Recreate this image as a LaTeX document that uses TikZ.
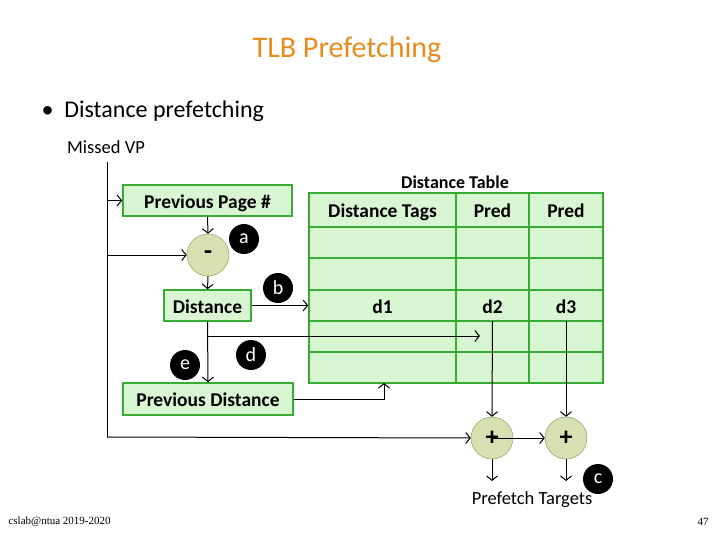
\documentclass[tikz,border=0pt]{standalone}
\usepackage{fontspec}
\setmainfont{Carlito}
\newfontfamily\footfont{Liberation Serif}
\usetikzlibrary{positioning,calc,arrows.meta}

\definecolor{boxgreen}{RGB}{216,246,210}
\definecolor{edgegreen}{RGB}{56,170,56}
\definecolor{opfill}{RGB}{214,224,176}
\definecolor{opedge}{RGB}{122,150,92}
\definecolor{titleorange}{RGB}{230,140,30}

\tikzset{
  blk/.style={draw=edgegreen, fill=boxgreen, line width=1.6pt, inner sep=0pt,
    text height=17pt, text depth=2pt,
    font=\bfseries\fontsize{19.5}{22}\selectfont},
  cell/.style={inner sep=0pt, text height=17pt, text depth=2pt,
    font=\bfseries\fontsize{19.5}{22}\selectfont},
  op/.style={circle, draw=opedge, fill=opfill, minimum size=42pt, inner sep=0pt,
    font=\bfseries\fontsize{26}{26}\selectfont},
  tag/.style={circle, fill=black, text=white, minimum size=30pt, inner sep=0pt,
    font=\fontsize{20}{20}\selectfont},
  flow/.style={-{Straight Barb[length=4.5pt,width=11pt]}, line width=1pt},
}

\begin{document}
\begin{tikzpicture}[x=1pt,y=-1pt]
    \useasboundingbox (0,0) rectangle (720,540);

    % Title and bullet
    \node[text=titleorange, font=\fontsize{30}{34}\selectfont] (title) at (347,50) {TLB Prefetching};
    \node[anchor=west, font=\fontsize{24}{28}\selectfont] (bullet) at (38,111) {\textbullet\ \ Distance prefetching};
    \node[font=\fontsize{18.5}{20}\selectfont] (mvp) at (106,147) {Missed VP};

    % Blocks
    \node[blk, minimum width=169pt, minimum height=31pt] (prev) at (207.5,200.5) {Previous Page \#};
    \node[op] (minus) at (208,255) {-};
    \node[blk, minimum width=87pt, minimum height=31pt] (dist) at (207.5,305.5) {Distance};
    \node[blk, minimum width=170pt, minimum height=32pt] (pdist) at (208,399) {Previous Distance};

    % Distance table
    \node[blk, minimum width=294pt, minimum height=190pt, text height=0pt, text depth=0pt] (tbl) at (456,288) {};
    \foreach \xx in {456,529}
        \draw[edgegreen, line width=1.6pt] (\xx,193) -- (\xx,383);
    \foreach \yy in {227,258,290,321,352}
        \draw[edgegreen, line width=1.6pt] (309,\yy) -- (603,\yy);
    \node[font=\bfseries\fontsize{18}{20}\selectfont] (ttl) at (455,182) {Distance Table};
    \node[cell, minimum height=31pt] (tags) at (382.5,210) {Distance Tags};
    \node[cell, minimum height=31pt] (predA) at (492.5,210) {Pred};
    \node[cell, minimum height=31pt] (predB) at (566,210) {Pred};
    \node[cell, minimum height=31pt] (d1) at (382.5,305.5) {d1};
    \node[cell, minimum height=31pt] (d2) at (492.5,305.5) {d2};
    \node[cell, minimum height=31pt] (d3) at (566,305.5) {d3};

    % Adders
    \node[op] (plus1) at (492,438) {+};
    \node[op] (plus2) at (566,438) {+};
    \node[font=\fontsize{18.5}{20}\selectfont] (targets) at (532,500) {Prefetch Targets};

    % Connectors
    \coordinate (top) at (107,162);
    \coordinate (corner) at (107,437);
    \coordinate (split) at (207.5,336);
    \coordinate (dend) at (480,336);
    \coordinate (tin) at (384,383);
    \coordinate (out1) at (492,481);
    \coordinate (out2) at (566,481);
    \draw[line width=1pt] (top) -- (corner);
    \draw[flow] (top |- prev.west) -- (prev.west);
    \draw[flow] (top |- minus.west) -- (minus.west);
    \draw[flow] (prev.south) -- (minus.north);
    \draw[flow] (minus.south) -- (dist.north);
    \draw[flow] (dist.east) -- (dist.east -| tbl.west);
    \draw[flow] (dist.south) -- (pdist.north);
    \draw[flow] (split) -- (dend);
    \draw[flow] (pdist.east) -| (tin);
    \draw[flow] (d2.south) -- (plus1.north);
    \draw[flow] (d3.south) -- (plus2.north);
    \draw[flow] (corner) -- (plus1.west);
    \draw[flow] (plus1.center) -- (plus2.west);
    \draw[flow] (plus1.south) -- (out1);
    \draw[flow] (plus2.south) -- (out2);

    % Step labels
    \node[tag] (la) at (244,239) {a};
    \node[tag] (lb) at (278,288) {b};
    \node[tag] (lc) at (598,479) {c};
    \node[tag] (ld) at (251,355) {d};
    \node[tag] (le) at (185,365) {e};

    % Footer
    \node[anchor=west, font=\footfont\fontsize{11}{12}\selectfont] (foot) at (5,522) {cslab@ntua 2019-2020};
    \node[font=\footfont\fontsize{11}{12}\selectfont] (page) at (703,522) {47};
\end{tikzpicture}
\end{document}
